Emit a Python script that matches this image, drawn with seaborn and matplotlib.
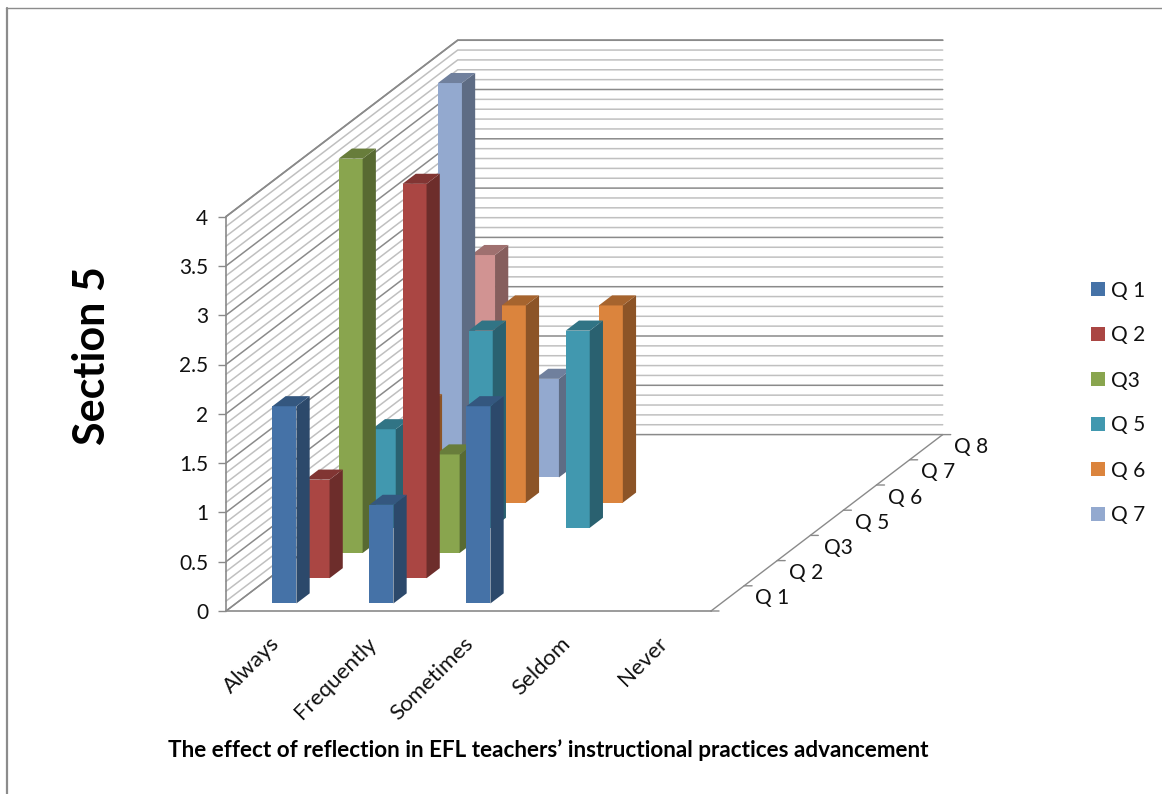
import matplotlib
matplotlib.use("Agg")
import matplotlib.pyplot as plt
from matplotlib.lines import Line2D
from matplotlib.patches import Patch
from matplotlib.transforms import ScaledTranslation
import numpy as np
import pandas as pd
import seaborn as sns

# Responses per frequency category, one list per question
categories = ["Always", "Frequently", "Sometimes", "Seldom", "Never"]
depth_labels = ["Q 1", "Q 2", "Q3", "Q 5", "Q 6", "Q 7", "Q 8"]
q1 = [2, 1, 2, 0, 0]
q2 = [1, 4, 0, 0, 0]
q3 = [4, 1, 0, 0, 0]
q5 = [1, 2, 2, 0, 0]
q6 = [1, 2, 2, 0, 0]
q7 = [4, 1, 0, 0, 0]
q8 = [2, 0, 0, 0, 0]
series_values = [q1, q2, q3, q5, q6, q7, q8]
series_colors = ["#4572A7", "#AA4643", "#89A54E", "#4198AF", "#DB843D", "#93A9CF", "#D19392"]
legend_count = 6
value_ticks = [0, 0.5, 1, 1.5, 2, 2.5, 3, 3.5, 4]
value_tick_labels = ["0", "0.5", "1", "1.5", "2", "2.5", "3", "3.5", "4"]

# Oblique projection: one step along the depth axis, in category and value units
DEPTH_DX = 33.1 / 97
DEPTH_DY = 25.2 / 98.6
BAR_WIDTH = 24 / 97
BAR_D0, BAR_D1 = 0.3, 0.7
X0, X1 = -0.5, 4.5
TOP = 4.0
N_DEPTH = len(depth_labels)
GRID_MINOR = "#c0c0c0"
GRID_MAJOR = "#8a8a8a"
FONT = "Lato"
TICK_SIZE = 15

sns.set_theme(style="white")
plt.rcParams["font.family"] = [FONT, "DejaVu Sans"]

W, H = 1162, 794
fig = plt.figure(figsize=(W / 100, H / 100), dpi=100)
ax = fig.add_axes([226 / W, 1 - 611 / H, 485 / W, 394.4 / H])
ax.patch.set_alpha(0)


def project(x, depth, value):
    return x + depth * DEPTH_DX, value + depth * DEPTH_DY


def shade(color, factor):
    rgb = np.array(matplotlib.colors.to_rgb(color))
    return tuple(rgb * factor)


# Walls and floor outline
for v in np.round(np.arange(0, TOP + 0.01, 0.1), 1):
    major = abs(v * 2 - round(v * 2)) < 1e-6
    col = GRID_MAJOR if major else GRID_MINOR
    xa, ya = project(X0, 0, v)
    xb, yb = project(X0, N_DEPTH, v)
    xc, yc = project(X1, N_DEPTH, v)
    ax.plot([xa, xb, xc], [ya, yb, yc], color=col, lw=1.1, zorder=1, clip_on=False,
            solid_joinstyle="miter")

xa, ya = project(X0, 0, TOP)
xb, yb = project(X0, N_DEPTH, TOP)
xc, yc = project(X1, N_DEPTH, TOP)
ax.plot([xa, xb, xc], [ya, yb, yc], color=GRID_MAJOR, lw=1.2, zorder=1, clip_on=False)

xa, ya = project(X0, 0, 0)
xb, yb = project(X0, N_DEPTH, 0)
xc, yc = project(X1, N_DEPTH, 0)
xd, yd = project(X1, 0, 0)
ax.plot([xa, xb], [ya, yb], color=GRID_MAJOR, lw=1.0, zorder=1, clip_on=False)
ax.plot([xd, xc], [yd, yc], color=GRID_MAJOR, lw=1.0, zorder=1, clip_on=False)

# Depth axis ticks and labels along the right edge of the floor
for d in range(N_DEPTH + 1):
    tx, ty = project(X1, d, 0)
    ax.annotate("", xy=(tx, ty), xytext=(8 * 0.72, 0), textcoords="offset points",
                arrowprops=dict(arrowstyle="-", color=GRID_MAJOR, lw=1.0, shrinkA=0, shrinkB=0),
                annotation_clip=False)
for d, label in enumerate(depth_labels):
    tx, ty = project(X1, d + 0.5, 0)
    ax.annotate(label, xy=(tx, ty), xytext=(45 * 0.72, 0), textcoords="offset points",
                ha="center", va="center", fontsize=TICK_SIZE, color="#111111",
                annotation_clip=False)

# Bars, back row first so nearer rows cover farther ones
for idx in range(N_DEPTH - 1, -1, -1):
    frame = pd.DataFrame({"category": categories, "score": series_values[idx]})
    color = series_colors[idx]
    before = len(ax.patches)
    sns.barplot(data=frame, x="category", y="score", order=categories, color=color,
                saturation=1, width=BAR_WIDTH, errorbar=None, legend=False, ax=ax,
                linewidth=0)
    z = 10 + (N_DEPTH - idx) * 2
    for bar in list(ax.patches[before:]):
        height = bar.get_height()
        if height <= 0:
            bar.remove()
            continue
        left, right = bar.get_x(), bar.get_x() + bar.get_width()
        bar.set_x(left + BAR_D0 * DEPTH_DX + idx * DEPTH_DX)
        bar.set_y((BAR_D0 + idx) * DEPTH_DY)
        bar.set_zorder(z)
        bar.set_clip_on(False)
        d0, d1 = idx + BAR_D0, idx + BAR_D1
        side = [project(right, d0, 0), project(right, d1, 0),
                project(right, d1, height), project(right, d0, height)]
        top = [project(left, d0, height), project(right, d0, height),
               project(right, d1, height), project(left, d1, height)]
        ax.fill(*zip(*side), color=shade(color, 0.64), lw=0, zorder=z, clip_on=False)
        ax.fill(*zip(*top), color=shade(color, 0.76), lw=0, zorder=z, clip_on=False)

ax.set_xlim(X0, X1)
ax.set_ylim(0, TOP)

# Axes
sns.despine(ax=ax, top=True, right=True)
for name in ("left", "bottom"):
    ax.spines[name].set_color(GRID_MAJOR)
    ax.spines[name].set_linewidth(1.2)
    ax.spines[name].set_zorder(2)
ax.set_yticks(value_ticks, value_tick_labels)
ax.tick_params(axis="y", left=True, length=8 * 0.72, width=1.0, color=GRID_MAJOR,
               labelsize=TICK_SIZE, labelcolor="#111111", pad=7)
ax.set_xticks(range(len(categories)), categories)
ax.tick_params(axis="x", bottom=False, labelsize=16, labelcolor="#111111", pad=10)
label_shift = ScaledTranslation(-5 / 100, 0, fig.dpi_scale_trans)
for tick in ax.get_xticklabels():
    tick.set_rotation(45)
    tick.set_ha("right")
    tick.set_rotation_mode("anchor")
    tick.set_transform(tick.get_transform() + label_shift)

ax.set_ylabel("Section 5", fontsize=31, fontweight="bold", color="black", va="center")
ax.yaxis.set_label_coords((92 - 226) / 485, (611 - 356) / 394.4)
ax.set_xlabel("The effect of reflection in EFL teachers\u2019 instructional practices advancement",
              fontsize=16.2, fontweight="bold", color="black", va="center")
ax.xaxis.set_label_coords((548 - 226) / 485, (611 - 750) / 394.4)

# Legend lists the first six questions
handles = [Patch(facecolor=c, edgecolor="none") for c in series_colors[:legend_count]]
fig.legend(handles, depth_labels[:legend_count], loc="center left",
           bbox_to_anchor=(1091 / W, 1 - 403 / H), frameon=False, fontsize=TICK_SIZE,
           handlelength=0.67, handleheight=0.67, handletextpad=0.3, labelspacing=1.2,
           borderpad=0, borderaxespad=0, labelcolor="#111111")

# Outer chart frame, open on the right and at the bottom
fig.add_artist(Line2D([6.5 / W, 6.5 / W], [0, 1 - 7.5 / H], color="#8c8c8c", lw=1.6,
                      transform=fig.transFigure))
fig.add_artist(Line2D([6 / W, 1], [1 - 7.5 / H, 1 - 7.5 / H], color="#8c8c8c", lw=1.0,
                      transform=fig.transFigure))

fig.savefig("out.png", dpi=100, facecolor="white")
